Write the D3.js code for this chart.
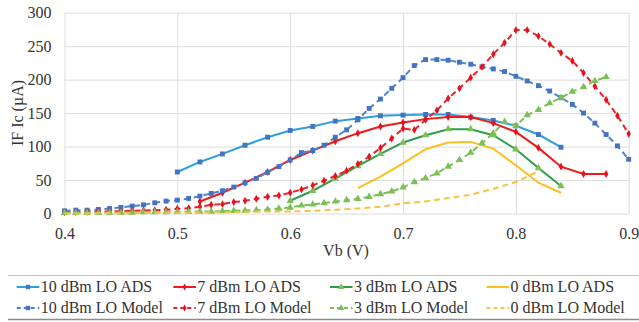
<!DOCTYPE html>
<html>
<head>
<meta charset="utf-8">
<script src="https://cdn.jsdelivr.net/npm/d3@7"></script>
<style>
  body { margin: 0; background: #fff; }
  svg text { font-family: "Liberation Serif", "DejaVu Serif", serif !important; fill: #333; }
</style>
</head>
<body>
<svg id="chart" width="639" height="322"></svg>
<script>
// x sampling (Vb, volts)
const vbModel = [0.40, 0.41, 0.42, 0.43, 0.44, 0.45, 0.46, 0.47, 0.48, 0.49,
  0.50, 0.51, 0.52, 0.53, 0.54, 0.55, 0.56, 0.57, 0.58, 0.59,
  0.60, 0.61, 0.62, 0.63, 0.64, 0.65, 0.66, 0.67, 0.68, 0.69,
  0.70, 0.71, 0.72, 0.73, 0.74, 0.75, 0.76, 0.77, 0.78, 0.79,
  0.80, 0.81, 0.82, 0.83, 0.84, 0.85, 0.86, 0.87, 0.88, 0.89, 0.90];
const vbModel0 = [0.40, 0.42, 0.44, 0.46, 0.48, 0.50, 0.52, 0.54, 0.56, 0.58, 0.60,
  0.62, 0.64, 0.66, 0.68, 0.70, 0.72, 0.74, 0.76, 0.78, 0.80, 0.82];
const vbAds10 = [0.50, 0.52, 0.54, 0.56, 0.58, 0.60, 0.62, 0.64, 0.66, 0.68, 0.70,
  0.72, 0.74, 0.76, 0.78, 0.80, 0.82, 0.84];
const vbAds7 = [0.52, 0.54, 0.56, 0.58, 0.60, 0.62, 0.64, 0.66, 0.68, 0.70,
  0.72, 0.74, 0.76, 0.78, 0.80, 0.82, 0.84, 0.86, 0.88];
const vbAds3 = [0.60, 0.62, 0.64, 0.66, 0.68, 0.70, 0.72, 0.74, 0.76, 0.78, 0.80, 0.82, 0.84];
const vbAds0 = [0.66, 0.68, 0.70, 0.72, 0.74, 0.76, 0.78, 0.80, 0.82, 0.84];

// IF Ic (uA)
const ads10 = [62, 77, 89, 102, 114, 124, 130, 138, 142, 146, 147, 148, 148, 144, 139, 131, 118, 99];
const ads7 = [18, 31, 46, 62, 80, 94, 108, 120, 130, 136, 141, 144, 144, 135, 122, 98, 70, 59, 59];
const ads3 = [19, 34, 52, 71, 89, 106, 117, 126, 126, 117, 96, 68, 41];
const ads0 = [38, 55, 75, 96, 106, 107, 97, 72, 46, 31];

const model10 = [4, 5, 5, 6, 7.5, 9, 11, 13, 16, 18.5,
  20, 22.5, 26, 30, 34, 39.5, 46, 52.5, 61.5, 70,
  80, 91, 94, 102, 114, 125, 140, 157, 171, 187,
  203, 221, 230, 230, 229, 226, 223, 219, 216, 212,
  205, 198, 191, 183, 173, 163, 150, 135, 118, 101, 81];
const model7 = [2, 2, 2.5, 3, 3, 3.5, 4, 4.5, 5, 5.5,
  7, 8, 10, 13, 14, 17, 19, 22, 25, 27,
  31, 36, 42, 49, 56, 64, 74, 85, 98, 112,
  127, 125, 140, 154, 172, 187, 203, 219, 238, 255,
  274, 274, 265, 253, 240, 228, 210, 190, 170, 146, 119];
const model3 = [1, 1, 1, 1, 1.5, 1.5, 1.5, 2, 2, 2,
  2.5, 2.5, 3, 3, 3.5, 4, 4.5, 5, 6, 7.5,
  9, 12, 13.5, 15.5, 18, 20, 22, 25, 29, 33,
  39, 47, 53, 60, 70, 80, 91, 105, 120, 137,
  131, 147, 155, 165, 173, 182, 189, 198, 204];
const model0 = [0, 0, 0.5, 0.5, 1, 1, 1.5, 2, 2.5, 3, 3,
  4, 5.5, 7.5, 10, 15, 18, 23, 28, 37, 47, 63];

const xTicks = [0.4, 0.5, 0.6, 0.7, 0.8, 0.9];
const yTicks = [0, 50, 100, 150, 200, 250, 300];
const seriesNames = ['10 dBm LO ADS', '7 dBm LO ADS', '3 dBm LO ADS', '0 dBm LO ADS',
  '10 dBm LO Model', '7 dBm LO Model', '3 dBm LO Model', '0 dBm LO Model'];

const series = [
  {name: seriesNames[0], x: vbAds10, y: ads10, stroke: '#2c9fdb', mark: '#4472c4', shape: d3.symbolSquare, size: 24, dash: null},
  {name: seriesNames[1], x: vbAds7, y: ads7, stroke: '#f01a1a', mark: '#e8111c', shape: d3.symbolDiamond, size: 18, dash: null},
  {name: seriesNames[2], x: vbAds3, y: ads3, stroke: '#2f9e4a', mark: '#7cbf57', shape: d3.symbolTriangle, size: 24, dash: null},
  {name: seriesNames[3], x: vbAds0, y: ads0, stroke: '#fbbf1e', mark: null, dash: null},
  {name: seriesNames[4], x: vbModel, y: model10, stroke: '#4f86c9', mark: '#4472c4', shape: d3.symbolSquare, size: 24, dash: '6,4'},
  {name: seriesNames[5], x: vbModel, y: model7, stroke: '#e8242a', mark: '#e8111c', shape: d3.symbolDiamond, size: 18, dash: '6,4'},
  {name: seriesNames[6], x: vbModel.slice(0, model3.length), y: model3, stroke: '#7cbf57', mark: '#7cbf57', shape: d3.symbolTriangle, size: 24, dash: '6,4'},
  {name: seriesNames[7], x: vbModel0, y: model0, stroke: '#f6c445', mark: null, dash: '6,4'}
];

const font = '"Liberation Serif", "DejaVu Serif", serif';
const svg = d3.select('#chart').attr('font-family', font);
const plot = {left: 64.5, right: 628.7, top: 12.7, bottom: 213.5};

const x = d3.scaleLinear().domain([0.4, 0.9]).range([plot.left, plot.right]);
const y = d3.scaleLinear().domain([0, 300]).range([plot.bottom, plot.top]);

// gridlines
svg.append('g')
  .attr('transform', 'translate(0,' + plot.bottom + ')')
  .call(d3.axisBottom(x).tickValues(xTicks).tickSize(-(plot.bottom - plot.top)).tickFormat(''))
  .call(g => g.select('.domain').remove())
  .call(g => g.selectAll('line').attr('stroke', '#dcdcdc'));
svg.append('g')
  .attr('transform', 'translate(' + plot.left + ',0)')
  .call(d3.axisLeft(y).tickValues(yTicks).tickSize(-(plot.right - plot.left)).tickFormat(''))
  .call(g => g.select('.domain').remove())
  .call(g => g.selectAll('line').attr('stroke', '#dcdcdc'));

// axis labels
svg.append('g')
  .attr('transform', 'translate(0,' + plot.bottom + ')')
  .call(d3.axisBottom(x).tickValues(xTicks).tickSize(0).tickPadding(14).tickFormat(d3.format('.1f')))
  .attr('font-family', font).attr('font-size', 16)
  .call(g => g.select('.domain').remove());
svg.append('g')
  .attr('transform', 'translate(' + plot.left + ',0)')
  .call(d3.axisLeft(y).tickValues(yTicks).tickSize(0).tickPadding(13))
  .attr('font-family', font).attr('font-size', 16)
  .call(g => g.select('.domain').remove());

svg.append('text')
  .attr('x', 346).attr('y', 256)
  .attr('text-anchor', 'middle')
  .attr('font-size', 16)
  .text('Vb (V)');
svg.append('text')
  .attr('transform', 'translate(23,113) rotate(-90)')
  .attr('text-anchor', 'middle')
  .attr('font-size', 16)
  .text('IF Ic (µA)');

// series
const line = d3.line().x(d => x(d[0])).y(d => y(d[1]));
series.forEach(s => {
  const pts = s.x.map((v, i) => [v, s.y[i]]);
  const g = svg.append('g');
  g.append('path')
    .attr('d', line(pts))
    .attr('fill', 'none')
    .attr('stroke', s.stroke)
    .attr('stroke-width', 2)
    .attr('stroke-dasharray', s.dash);
  if (s.mark) {
    g.selectAll('path.m')
      .data(pts)
      .enter()
      .append('path')
      .attr('class', 'm')
      .attr('d', d3.symbol().type(s.shape).size(s.size))
      .attr('transform', d => 'translate(' + x(d[0]) + ',' + y(d[1]) + ')')
      .attr('fill', s.mark);
  }
});

// legend
const legend = svg.append('g');
legend.append('line').attr('x1', 8).attr('x2', 639).attr('y1', 275.5).attr('y2', 275.5)
  .attr('stroke', '#bfbfbf');
legend.append('line').attr('x1', 8).attr('x2', 639).attr('y1', 319.5).attr('y2', 319.5)
  .attr('stroke', '#8c8c8c').attr('stroke-width', 1.5);

series.forEach((s, i) => {
  const col = i % 4, row = Math.floor(i / 4);
  const lx = 16.7 + col * 156.6;
  const ly = row === 0 ? 287 : 308;
  const item = legend.append('g').attr('transform', 'translate(' + lx + ',' + ly + ')');
  item.append('line')
    .attr('x1', 0).attr('x2', 22.6).attr('y1', 0).attr('y2', 0)
    .attr('stroke', s.stroke).attr('stroke-width', 2)
    .attr('stroke-dasharray', s.dash ? '4,3' : null);
  if (s.mark) {
    item.append('path')
      .attr('d', d3.symbol().type(s.shape).size(s.size * 0.8))
      .attr('transform', 'translate(11.3,0)')
      .attr('fill', s.mark);
  }
  item.append('text')
    .attr('x', 24).attr('y', 0).attr('dy', '0.33em')
    .attr('font-size', 16)
    .text(s.name);
});
</script>
</body>
</html>
